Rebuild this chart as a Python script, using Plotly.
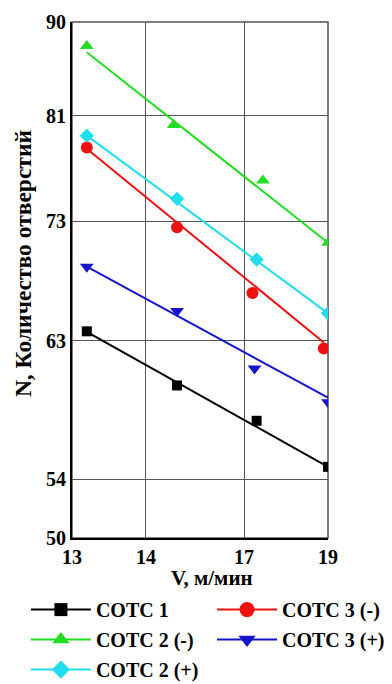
import numpy as np
import plotly.graph_objects as go

# ---- tick labels (nonuniform axes of the original) ----
x_tick_labels = [13, 14, 17, 19]
y_tick_labels = [50, 54, 63, 73, 81, 90]

# ---- data: cutting speed V (m/min) and number of holes N ----
series_names = ["СОТС 1", "СОТС 3 (-)", "СОТС 2 (-)", "СОТС 3 (+)", "СОТС 2 (+)"]

v_sots1 = [13.2, 14.95, 17.3, 19.0]
n_sots1 = [63.8, 60.1, 57.8, 54.8]
v_sots3m = [13.2, 14.95, 17.2, 18.9]
n_sots3m = [78.6, 72.5, 67.0, 62.5]
v_sots2m = [13.2, 14.85, 17.45, 19.0]
n_sots2m = [87.7, 80.3, 76.1, 71.2]
v_sots3p = [13.2, 14.95, 17.25, 19.0]
n_sots3p = [69.2, 65.5, 61.2, 59.0]
v_sots2p = [13.2, 14.95, 17.3, 19.0]
n_sots2p = [79.5, 74.7, 69.8, 65.3]

# fitted trend lines (start / end)
fit_v1 = [13.2, 19.0];  fit_n1 = [63.75, 54.8]
fit_v3m = [13.2, 18.9]; fit_n3m = [78.5, 62.9]
fit_v2m = [13.2, 19.0]; fit_n2m = [87.1, 71.2]
fit_v3p = [13.2, 19.0]; fit_n3p = [69.2, 59.3]
fit_v2p = [13.2, 19.0]; fit_n2p = [79.5, 65.3]

# ---- axis scale (fractional positions of the labelled ticks) ----
x_tick_pos = [0.0, 0.289, 0.672, 1.0]
y_tick_pos = [0.0, 0.114, 0.382, 0.614, 0.818, 1.0]


def sx(v):
    return np.interp(v, x_tick_labels, x_tick_pos)


def sy(n):
    return np.interp(n, y_tick_labels, y_tick_pos)


colors = ["#000000", "#ee1111", "#22dd22", "#1515cc", "#22ddee"]
symbols = ["square", "circle", "triangle-up", "triangle-down", "diamond"]
sizes = [10, 12, 12, 12, 11]
legend_ids = ["legend", "legend2", "legend", "legend2", "legend"]
pts = [(v_sots1, n_sots1), (v_sots3m, n_sots3m), (v_sots2m, n_sots2m),
       (v_sots3p, n_sots3p), (v_sots2p, n_sots2p)]
fits = [(fit_v1, fit_n1), (fit_v3m, fit_n3m), (fit_v2m, fit_n2m),
        (fit_v3p, fit_n3p), (fit_v2p, fit_n2p)]

fig = go.Figure()
for i, name in enumerate(series_names):
    fv, fn = fits[i]
    fig.add_trace(go.Scatter(x=sx(fv), y=sy(fn), mode="lines",
                             line=dict(color=colors[i], width=2),
                             showlegend=False, hoverinfo="skip"))
    pv, pn = pts[i]
    fig.add_trace(go.Scatter(x=sx(pv), y=sy(pn), mode="markers",
                             marker=dict(symbol=symbols[i], size=sizes[i], color=colors[i]),
                             showlegend=False, name=name))
for i, name in enumerate(series_names):
    fig.add_trace(go.Scatter(x=[None], y=[None], mode="lines+markers", name=f"<b>{name}</b>",
                             legend=legend_ids[i], legendgroup=f"g{i}",
                             line=dict(color=colors[i], width=2),
                             marker=dict(symbol=symbols[i], size=sizes[i] + 3, color=colors[i])))

font_fam = "Liberation Serif, Times New Roman, serif"

fig.add_shape(type="rect", xref="paper", yref="paper", x0=0, y0=0, x1=1, y1=1,
              line=dict(color="#555555", width=1.5), layer="below")

fig.add_annotation(text="<b>N, Количество отверстий</b>", textangle=-90,
                   xref="paper", yref="paper", x=-0.191, y=0.531,
                   xanchor="center", yanchor="middle",
                   showarrow=False, font=dict(size=23.5, family=font_fam))
fig.add_annotation(text="<b>V, м/мин</b>",
                   xref="paper", yref="paper", x=0.547, y=-0.0775,
                   xanchor="center", yanchor="middle",
                   showarrow=False, font=dict(size=21, family=font_fam))

leg_common = dict(orientation="v", yanchor="top", xanchor="left",
                  font=dict(size=20, family=font_fam), tracegroupgap=1,
                  itemwidth=60, bgcolor="rgba(0,0,0,0)")

fig.update_layout(
    width=384, height=676,
    margin=dict(l=64, r=64, t=14, b=146, autoexpand=False),
    paper_bgcolor="white", plot_bgcolor="white",
    font=dict(family=font_fam, size=20, color="black"),
    xaxis=dict(range=[0, 1], tickvals=x_tick_pos, ticktext=[f"<b>{t}</b>" for t in x_tick_labels],
               showgrid=True, gridcolor="#555555", gridwidth=1,
               showline=True, linecolor="black", linewidth=2, zeroline=False,
               ticks="", ticklen=0, tickfont=dict(size=20)),
    yaxis=dict(range=[0, 1], tickvals=y_tick_pos, ticktext=[f"<b>{t}</b>" for t in y_tick_labels],
               showgrid=True, gridcolor="#555555", gridwidth=1,
               showline=True, linecolor="black", linewidth=2, zeroline=False,
               ticks="", ticklen=0, tickfont=dict(size=20)),
    legend=dict(x=-0.18, y=-0.101, **leg_common),
    legend2=dict(x=0.547, y=-0.101, **leg_common),
    showlegend=True,
)

fig.write_html("out.html")
